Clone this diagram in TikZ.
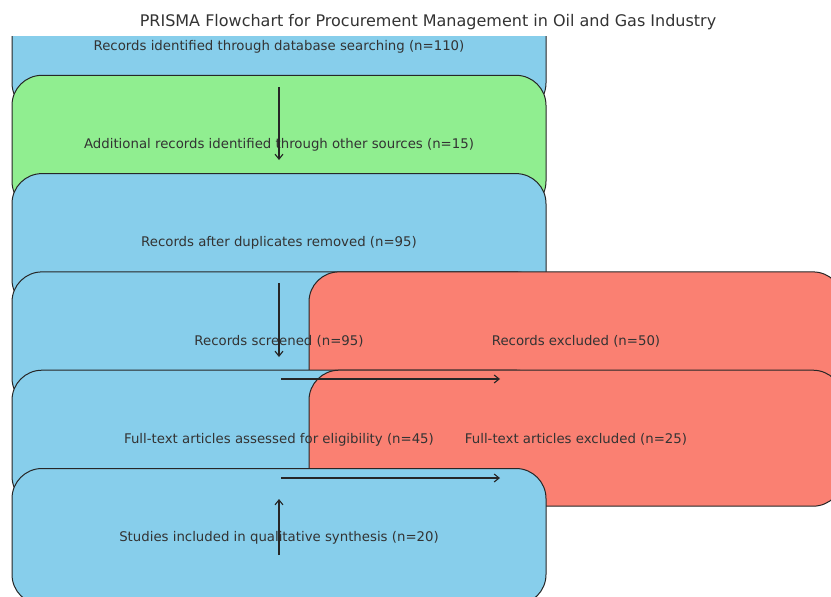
\documentclass[tikz,border=0pt]{standalone}
\usepackage{fontspec}
\setmainfont{DejaVu Sans}
\usetikzlibrary{arrows.meta,positioning}

\definecolor{skyblue}{HTML}{87CEEB}
\definecolor{lightgreen}{HTML}{90EE90}
\definecolor{salmon}{HTML}{FA8072}

\begin{document}
\begin{tikzpicture}[
  x=1pt, y=-1pt, >={Straight Barb[length=5pt,width=8pt]},
  box/.style={draw=black!85, line width=1pt, rounded corners=30pt, minimum width=534pt, minimum height=136pt, inner sep=0pt, outer sep=0pt},
  keep/.style={box, fill=skyblue},
  extra/.style={box, fill=lightgreen},
  drop/.style={box, fill=salmon},
  txt/.style={font=\fontsize{13.3}{16}\selectfont, text=black!80, yshift=-1.5pt},
  arrow/.style={->, line width=1.1pt, black!85}
]
\useasboundingbox (0,0) rectangle (831,597);

\node[font=\fontsize{16}{19}\selectfont, text=black!80] (title) at (428,22.5) {PRISMA Flowchart for Procurement Management in Oil and Gas Industry};

% boxes, clipped to the plot area
\begin{scope}
  \clip (0,36) rectangle (831,597);
  \node[keep] (ident) at (279,45) {};
  \node[extra, below=-37.7pt of ident] (other) {};
  \node[keep, below=-37.7pt of other] (dedup) {};
  \node[keep, below=-37.7pt of dedup] (screen) {};
  \node[drop, right=-237pt of screen] (excl) {};
  \node[keep, below=-37.7pt of screen] (full) {};
  \node[drop, right=-237pt of full] (fexcl) {};
  \node[keep, below=-37.7pt of full] (incl) {};
\end{scope}

% labels go on top of every box
\foreach \n/\t in {
  ident/Records identified through database searching (n=110),
  other/Additional records identified through other sources (n=15),
  dedup/Records after duplicates removed (n=95),
  screen/Records screened (n=95),
  excl/Records excluded (n=50),
  full/Full-text articles assessed for eligibility (n=45),
  fexcl/Full-text articles excluded (n=25),
  incl/Studies included in qualitative synthesis (n=20)}
  \node[txt] (t-\n) at (\n) {\t};

\coordinate (a1s) at (279,87);
\coordinate (a1e) at (279,160);
\coordinate (a2s) at (279,283);
\coordinate (a2e) at (279,357);
\coordinate (a3s) at (281,379);
\coordinate (a3e) at (500,379);
\coordinate (a4s) at (281,478);
\coordinate (a4e) at (500,478);
\coordinate (a5s) at (279,555);
\coordinate (a5e) at (279,499);

\draw[arrow] (a1s) -- (a1e);
\draw[arrow] (a2s) -- (a2e);
\draw[arrow] (a3s) -- (a3e);
\draw[arrow] (a4s) -- (a4e);
\draw[arrow] (a5s) -- (a5e);

\end{tikzpicture}
\end{document}
